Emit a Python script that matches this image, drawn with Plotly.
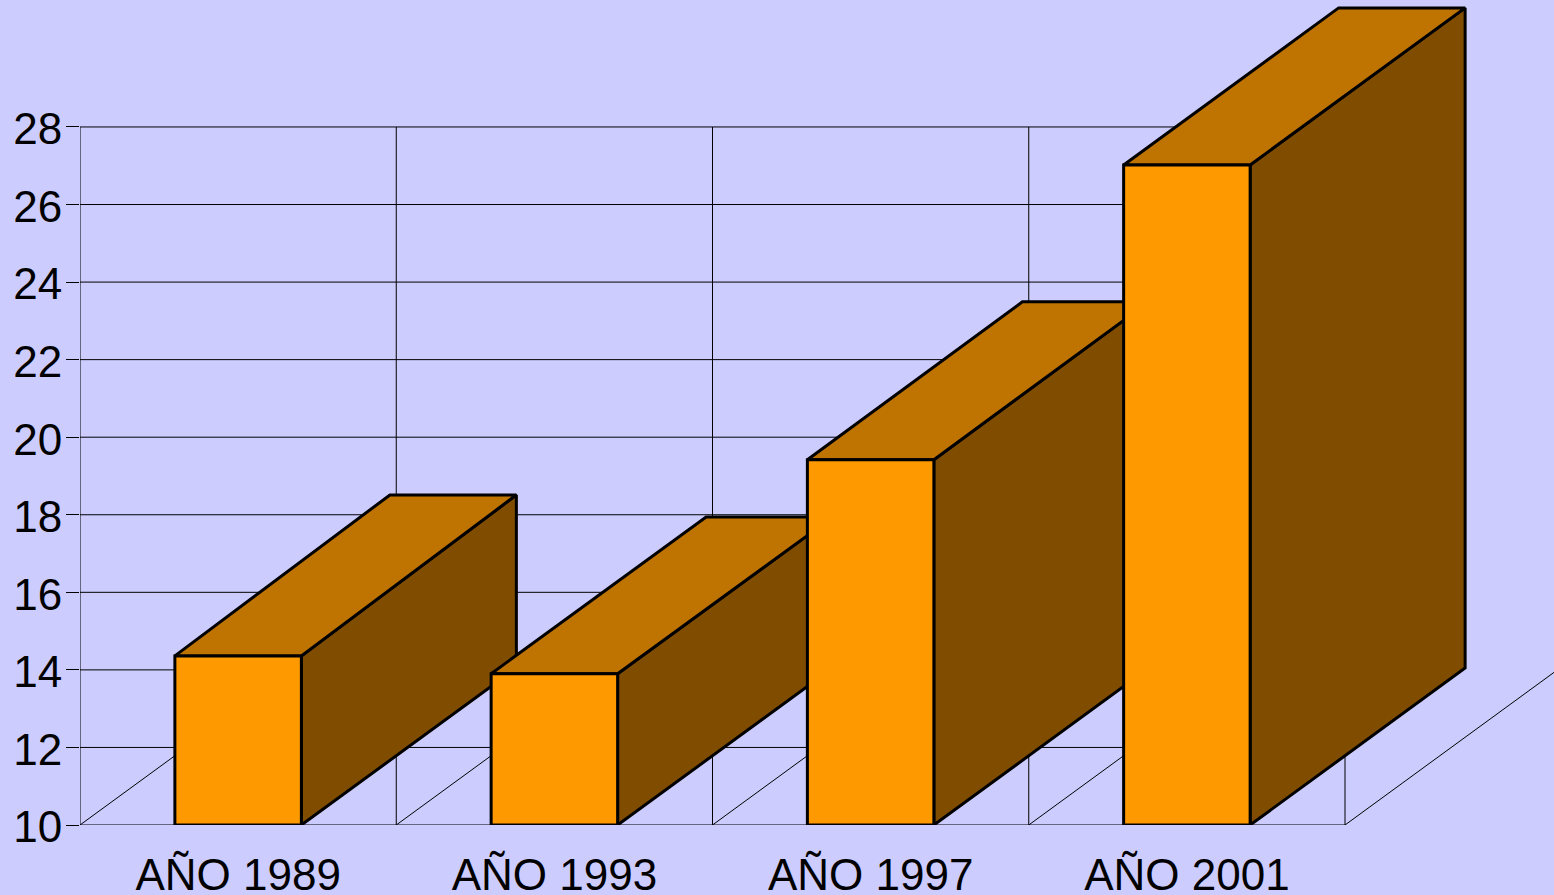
import plotly.graph_objects as go

categories = ["AÑO 1989", "AÑO 1993", "AÑO 1997", "AÑO 2001"]
values = [14.36, 13.9, 19.42, 27.02]
back_tops = [18.51, 17.94, 23.49, 31.07]
y_ticks = [10, 12, 14, 16, 18, 20, 22, 24, 26, 28]

W, H = 1554, 895
L, B = 80, 70
CAT_PX = 316.25
UNIT_PX = 38.78
DEPTH_X = 215 / CAT_PX
DEPTH_Y = 157 / UNIT_PX
BAR_W = 0.4
BG = "#CCCCFF"
FRONT = "#FF9900"
TOP = "#BF7300"
SIDE = "#804D00"
FONT = "Liberation Sans"

fig = go.Figure()


def line(xs, ys, width=1):
    fig.add_trace(go.Scatter(x=xs, y=ys, mode="lines", line=dict(color="black", width=width),
                             hoverinfo="skip", showlegend=False))


def poly(xs, ys, color):
    fig.add_trace(go.Scatter(x=xs + xs[:1], y=ys + ys[:1], mode="lines", fill="toself", fillcolor=color,
                             line=dict(color="black", width=3), line_shape="linear",
                             hoverinfo="skip", showlegend=False))


n = len(categories)
for t in y_ticks:
    line([0, n], [t, t])
for i in range(n + 1):
    line([i, i], [y_ticks[0], y_ticks[-1]] if i < n else [y_ticks[0], y_ticks[0] + DEPTH_Y])
    line([i, i + DEPTH_X], [y_ticks[0], y_ticks[0] + DEPTH_Y])

for i, (v, back) in enumerate(zip(values, back_tops)):
    x0 = i + 0.5 - BAR_W / 2
    x1 = i + 0.5 + BAR_W / 2
    b = y_ticks[0]
    poly([x1, x1 + DEPTH_X, x1 + DEPTH_X, x1], [b, b + DEPTH_Y, back, v], SIDE)
    poly([x0, x1, x1 + DEPTH_X, x0 + DEPTH_X], [v, v, back, back], TOP)
    poly([x0, x1, x1, x0], [b, b, v, v], FRONT)

fig.update_layout(
    width=W, height=H, autosize=False,
    margin=dict(l=L, r=0, t=0, b=B, pad=0),
    paper_bgcolor=BG, plot_bgcolor=BG,
    font=dict(family=FONT, size=44, color="black"),
    showlegend=False,
    xaxis=dict(range=[0, (W - L) / CAT_PX], tickvals=[i + 0.5 for i in range(n)], ticktext=categories,
               showgrid=False, zeroline=False, showline=False, ticks="", fixedrange=True,
               tickangle=0, ticklabelstandoff=20, automargin=False),
    yaxis=dict(range=[y_ticks[0], y_ticks[0] + (H - B) / UNIT_PX], tickvals=y_ticks,
               ticktext=[str(t) for t in y_ticks],
               showgrid=False, zeroline=False, showline=False, ticks="outside", ticklen=13,
               tickwidth=1, tickcolor="black", fixedrange=True, ticklabelstandoff=-5, ticklabelshift=2,
               automargin=False),
)
fig.write_html("out.html", config={"displayModeBar": False},
               post_script="document.body.style.margin='0';document.documentElement.style.overflow='hidden';")
